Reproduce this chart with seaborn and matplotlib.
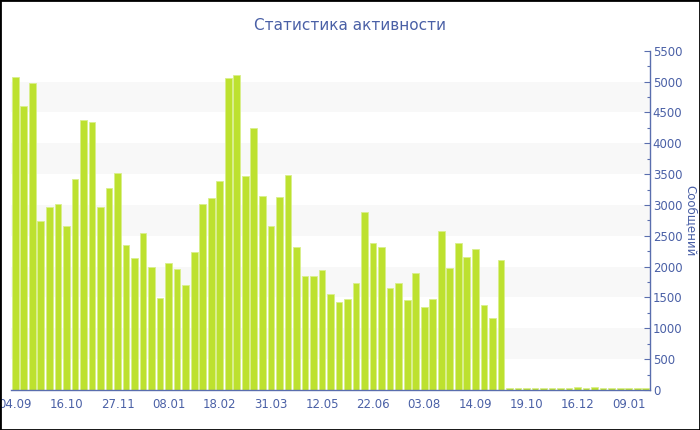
"""Недельная статистика активности: столбчатая диаграмма сообщений."""

import matplotlib
matplotlib.use("Agg")
import matplotlib.pyplot as plt
import numpy as np
import pandas as pd
import seaborn as sns
from matplotlib.patches import Rectangle
from matplotlib.ticker import MultipleLocator


TITLE = "Статистика активности"
Y_LABEL = "Сообщений"

active_weeks = [
    5070, 4600, 4980, 2740, 2960, 3020, 2660, 3420, 4380, 4340,
    2960, 3280, 3520, 2350, 2140, 2550, 2000, 1490, 2060, 1960,
    1710, 2240, 3020, 3110, 3390, 5060, 5110, 3470, 4250, 3140,
    2660, 3130, 3480, 2320, 1850, 1840, 1940, 1560, 1420, 1480,
    1740, 2890, 2380, 2320, 1650, 1730, 1460, 1890, 1340, 1480,
    2580, 1980, 2390, 2150, 2280, 1370, 1170, 2110,
]
# Хвост почти пустых недель.
quiet_weeks = [30, 28, 30, 32, 28, 30, 32, 35, 45, 30, 48, 30, 28, 32, 30, 32, 28]

tick_positions = [0, 6, 12, 18, 24, 30, 36, 42, 48, 54, 60, 66, 72]
tick_labels = [
    "04.09", "16.10", "27.11", "08.01", "18.02", "31.03", "12.05",
    "22.06", "03.08", "14.09", "19.10", "16.12", "09.01",
]

BAR_COLOR = "#bde12f"
TEXT_COLOR = "#4a60a6"
AXIS_COLOR = "#5a6eae"


def main():
    sns.set_theme(style="white")
    plt.rcParams["font.family"] = ["DejaVu Sans"]

    messages = active_weeks + quiet_weeks
    df = pd.DataFrame({"week": np.arange(len(messages)), "messages": messages})

    fig = plt.figure(figsize=(7.0, 4.3), dpi=100)
    ax = fig.add_axes([11 / 700, 40 / 430, 639 / 700, 339.3 / 430])

    # Чередующиеся светло-серые полосы вместо сетки.
    for low in range(500, 5500, 1000):
        ax.axhspan(low, low + 500, color="#f8f8f8", zorder=0, lw=0)

    sns.barplot(
        data=df, x="week", y="messages", color=BAR_COLOR, saturation=1,
        width=0.78, edgecolor="#d9ef8c", linewidth=0.6, ax=ax, zorder=2,
    )

    ax.set_xlim(-0.5, len(messages) - 0.5)
    ax.set_ylim(0, 5500)
    ax.set_xticks(tick_positions)
    ax.set_xticklabels(tick_labels)
    ax.set_xlabel("")

    ax.yaxis.tick_right()
    ax.yaxis.set_major_locator(MultipleLocator(500))
    ax.yaxis.set_minor_locator(MultipleLocator(250))
    ax.tick_params(axis="y", which="major", direction="in", length=4,
                   width=0.8, color=AXIS_COLOR, labelcolor=TEXT_COLOR,
                   labelsize=8.5, pad=2, right=True, left=False)
    ax.tick_params(axis="y", which="minor", direction="in", length=2.5,
                   width=0.8, color=AXIS_COLOR, right=True, left=False)
    ax.tick_params(axis="x", direction="inout", length=5, width=0.8,
                   color=AXIS_COLOR, labelcolor=TEXT_COLOR, labelsize=8.5, pad=3)

    for side in ("top", "left"):
        ax.spines[side].set_visible(False)
    for side in ("bottom", "right"):
        ax.spines[side].set_color(AXIS_COLOR)
        ax.spines[side].set_linewidth(1.0)

    ax.set_ylabel(Y_LABEL, rotation=270, color=TEXT_COLOR, fontsize=8.5,
                  va="center", ha="center")
    ax.yaxis.set_label_position("right")
    ax.yaxis.set_label_coords((697 - 11) / 639, 0.5)

    fig.text(0.5, 1 - 25 / 430, TITLE, ha="center", va="center",
             color=TEXT_COLOR, fontsize=11)

    # Чёрная рамка по краю картинки.
    fig.patches.append(Rectangle((0, 0), 1, 1, transform=fig.transFigure,
                                 fill=False, edgecolor="black", linewidth=2))

    fig.savefig("out.png", dpi=100)
    plt.close(fig)


if __name__ == "__main__":
    main()
